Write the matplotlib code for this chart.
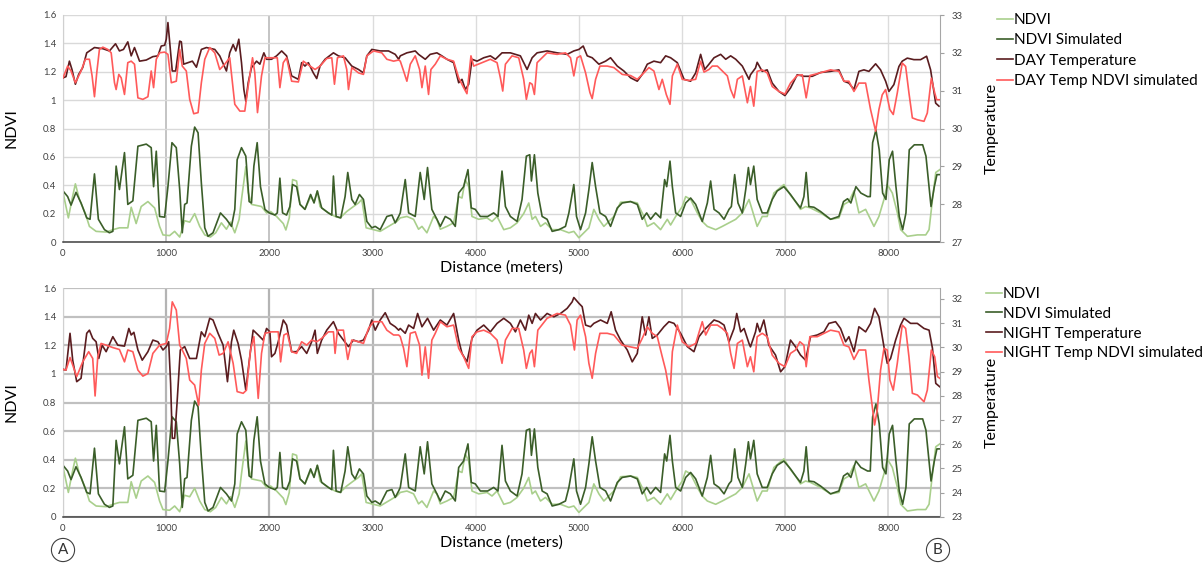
import numpy as np
import matplotlib
matplotlib.use("Agg")
import matplotlib.pyplot as plt
from matplotlib.ticker import FuncFormatter

plt.rcParams["font.family"] = ["Lato", "DejaVu Sans"]
plt.rcParams["lines.solid_joinstyle"] = "round"

# NDVI profile along the transect (same in both panels)
ndvi_d = [0, 52, 87, 120, 159, 217, 256, 321, 418, 499, 547, 628, 661, 709, 758, 823, 888, 936,
          969, 1033, 1082, 1131, 1179, 1228, 1276, 1325, 1374, 1429, 1480, 1535, 1584, 1623, 1665,
          1707, 1730, 1772, 1795, 1827, 1924, 1973, 2012, 2070, 2135, 2160, 2193, 2225, 2264, 2297,
          2345, 2400, 2433, 2465, 2491, 2572, 2637, 2686, 2750, 2815, 2864, 2896, 2938, 3009, 3074,
          3155, 3236, 3269, 3333, 3398, 3446, 3479, 3527, 3592, 3624, 3657, 3721, 3786, 3835, 3867,
          3899, 3932, 3964, 4029, 4110, 4158, 4207, 4272, 4336, 4401, 4465, 4514, 4547, 4579, 4628,
          4676, 4741, 4822, 4903, 4951, 5000, 5048, 5097, 5145, 5194, 5242, 5291, 5339, 5404, 5501,
          5566, 5630, 5663, 5727, 5792, 5857, 5889, 5938, 6002, 6035, 6083, 6148, 6196, 6245, 6326,
          6390, 6455, 6520, 6584, 6649, 6728, 6777, 6825, 6890, 6987, 7051, 7100, 7148, 7197, 7245,
          7342, 7439, 7520, 7569, 7617, 7666, 7714, 7779, 7860, 7908, 7957, 7989, 8038, 8087, 8119,
          8184, 8281, 8362, 8394, 8427, 8459, 8498]
ndvi = [.35, .17, .30, .41, .30, .20, .11, .075, .07, .09, .10, .10, .245, .13, .25, .285, .24, .11,
        .05, .045, .075, .035, .15, .14, .20, .11, .05, .035, .065, .135, .09, .14, .065,
        .16, .30, .53, .35, .265, .25, .205, .215, .18, .13, .085, .17, .44, .43, .265,
        .23, .32, .285, .36, .25, .205, .18, .17, .215, .25, .275, .30, .10, .087, .075,
        .11, .145, .17, .18, .16, .09, .11, .065, .18, .16, .09, .11, .135, .32, .31,
        .44, .39, .18, .16, .17, .145, .18, .087, .10, .135, .20, .275, .16, .18, .11,
        .135, .087, .087, .065, .075, .03, .065, .10, .23, .16, .11, .145, .18, .28, .285,
        .275, .18, .11, .135, .087, .16, .12, .18, .25, .32, .30, .205, .145, .11, .087,
        .11, .135, .16, .205, .30, .11, .18, .18, .345, .405, .33, .285, .23, .25, .24,
        .205, .16, .17, .265, .285, .36, .205, .23, .11, .18, .30, .405, .345, .205, .087,
        .04, .05, .05, .087, .30, .49, .51]

ndvi_sim_d = [0, 45, 78, 126, 175, 230, 262, 305, 343, 402, 450, 483, 515, 547, 596, 628, 677, 726,
              807, 855, 878, 904, 936, 985, 1017, 1056, 1098, 1131, 1156, 1179, 1202, 1244, 1276,
              1309, 1341, 1374, 1406, 1454, 1526, 1584, 1633, 1665, 1688, 1730, 1772, 1804, 1827,
              1850, 1882, 1914, 1957, 1999, 2054, 2077, 2102, 2128, 2167, 2199, 2225, 2264, 2297,
              2345, 2400, 2433, 2465, 2507, 2572, 2605, 2621, 2647, 2692, 2734, 2760, 2799, 2831,
              2873, 2912, 2945, 2993, 3026, 3074, 3139, 3188, 3220, 3253, 3269, 3317, 3350, 3414,
              3462, 3501, 3533, 3575, 3624, 3657, 3705, 3754, 3802, 3835, 3883, 3925, 3957, 3996,
              4045, 4116, 4174, 4216, 4255, 4288, 4336, 4401, 4449, 4491, 4524, 4540, 4569, 4602,
              4644, 4692, 4741, 4806, 4870, 4903, 4951, 4977, 5016, 5065, 5097, 5129, 5162, 5204,
              5259, 5307, 5372, 5420, 5501, 5566, 5614, 5657, 5695, 5744, 5792, 5831, 5851, 5883,
              5906, 5938, 5986, 6035, 6083, 6132, 6196, 6245, 6277, 6310, 6358, 6407, 6455, 6478,
              6510, 6542, 6584, 6617, 6643, 6663, 6695, 6728, 6777, 6825, 6874, 6922, 6987, 7051,
              7100, 7148, 7181, 7203, 7229, 7278, 7342, 7439, 7520, 7565, 7604, 7636, 7685, 7733,
              7798, 7824, 7847, 7879, 7911, 7944, 7976, 8008, 8040, 8073, 8105, 8138, 8170, 8202,
              8251, 8332, 8364, 8413, 8445, 8470, 8500]
ndvi_sim = [.36, .32, .26, .35, .275, .17, .16, .48, .16, .087, .065, .075, .535, .37, .63, .265, .29, .675,
            .69, .665, .39, .64, .18, .175, .39, .70, .665, .37, .065, .265, .275, .675, .81,
            .77, .415, .10, .04, .065, .205, .16, .11, .23, .58, .665, .605, .285, .275,
            .535, .70, .39, .23, .205, .19, .205, .45, .205, .19, .25, .405, .39, .265,
            .23, .335, .275, .36, .24, .205, .19, .465, .18, .17, .32, .49, .30, .265,
            .335, .30, .145, .10, .11, .087, .18, .19, .135, .18, .205, .44, .205, .18,
            .49, .30, .525, .23, .16, .11, .18, .16, .11, .345, .39, .51, .24, .23,
            .18, .18, .205, .18, .50, .25, .18, .145, .30, .605, .615, .43, .615, .345,
            .18, .16, .075, .087, .11, .205, .405, .18, .087, .205, .37, .56, .39, .205,
            .18, .11, .24, .275, .285, .265, .16, .205, .16, .205, .17, .44, .39, .57,
            .39, .205, .18, .275, .31, .265, .145, .275, .43, .23, .205, .16, .23, .25,
            .475, .275, .205, .37, .525, .405, .535, .30, .205, .205, .30, .36, .39, .335,
            .285, .24, .32, .49, .25, .245, .215, .16, .18, .285, .305, .275, .39, .345,
            .32, .32, .70, .79, .65, .345, .30, .58, .64, .39, .18, .087, .205, .65,
            .685, .685, .605, .25, .39, .475, .475]

# DAY land surface temperature
day_t_d = [0, 29, 62, 87, 120, 152, 191, 230, 305, 386, 450, 509, 547, 586, 628, 661, 693, 742, 807,
           871, 920, 952, 985, 1001, 1017, 1040, 1059, 1092, 1131, 1147, 1169, 1212, 1254, 1293, 1341,
           1390, 1471, 1519, 1584, 1616, 1649, 1675, 1704, 1730, 1753, 1772, 1795, 1827, 1876, 1908,
           1947, 1973, 2021, 2070, 2119, 2167, 2216, 2281, 2313, 2345, 2378, 2426, 2459, 2491, 2540,
           2621, 2669, 2734, 2799, 2864, 2912, 2945, 2993, 3074, 3155, 3220, 3253, 3269, 3333, 3414,
           3446, 3511, 3559, 3624, 3672, 3721, 3786, 3835, 3867, 3899, 3932, 3964, 4013, 4078, 4142,
           4191, 4255, 4336, 4433, 4498, 4547, 4595, 4692, 4789, 4886, 4951, 5000, 5042, 5081, 5129,
           5194, 5259, 5307, 5372, 5436, 5501, 5566, 5614, 5663, 5727, 5792, 5841, 5889, 5954, 6019,
           6083, 6132, 6180, 6219, 6261, 6310, 6374, 6423, 6471, 6520, 6584, 6649, 6663, 6712, 6728,
           6777, 6825, 6874, 6939, 6997, 7051, 7116, 7181, 7262, 7342, 7439, 7520, 7569, 7617, 7666,
           7714, 7763, 7811, 7876, 7924, 7973, 8005, 8053, 8102, 8134, 8183, 8247, 8312, 8370, 8409,
           8458, 8490]
day_t = [31.34, 31.37, 31.78, 31.56, 31.17, 31.43, 31.61, 32.0, 32.14, 32.11, 32.05, 32.24, 32.05, 32.09, 32.29, 31.92, 32.14, 31.78, 31.81,
         31.9, 31.92, 32.18, 32.2, 32.36, 32.8, 32.09, 31.52, 31.52, 32.31, 32.29, 31.7, 31.74, 31.78, 31.62, 32.09,
         32.14, 32.09, 31.92, 31.52, 32.0, 32.22, 32.05, 32.36, 31.74, 31.03, 30.72, 31.21, 31.61, 31.78, 31.7,
         32.0, 31.83, 31.83, 31.92, 32.05, 31.92, 31.39, 31.3, 31.74, 31.65, 31.74, 31.47, 31.32, 31.65, 31.83,
         32.0, 31.92, 31.87, 31.65, 31.56, 31.47, 31.92, 32.09, 32.05, 32.05, 31.96, 31.83, 31.92, 32.0, 32.05,
         31.96, 31.83, 31.96, 32.0, 31.92, 31.83, 31.74, 31.21, 31.3, 31.03, 31.17, 31.83, 31.78, 31.87, 31.92,
         31.83, 32.0, 32.0, 31.92, 31.56, 31.87, 32.0, 32.05, 32.0, 31.96, 32.05, 32.09, 32.18, 31.92, 31.87,
         31.7, 31.78, 31.87, 31.65, 31.52, 31.34, 31.25, 31.43, 31.7, 31.78, 31.74, 31.92, 31.87, 31.74, 31.3,
         31.25, 31.47, 31.96, 31.56, 31.7, 31.87, 31.96, 31.83, 31.92, 31.83, 31.65, 31.3, 31.42, 31.6, 31.75,
         31.51, 31.55, 31.2, 30.98, 30.87, 31.07, 31.42, 31.38, 31.38, 31.48, 31.51, 31.55, 31.25, 31.2, 31.03,
         31.51, 31.55, 31.51, 31.71, 31.55, 31.25, 30.98, 31.16, 31.64, 31.78, 31.86, 31.82, 31.82, 31.91, 31.55,
         30.67, 30.59]

day_sim_d = [0, 45, 78, 120, 175, 217, 256, 282, 305, 327, 353, 386, 434, 467, 499, 515, 541, 564, 596,
             628, 661, 693, 726, 774, 823, 855, 878, 904, 936, 985, 1017, 1050, 1098, 1131, 1156, 1195,
             1228, 1267, 1309, 1341, 1374, 1422, 1471, 1519, 1568, 1616, 1665, 1714, 1762, 1795, 1837,
             1859, 1885, 1924, 1957, 2021, 2077, 2102, 2135, 2167, 2216, 2281, 2329, 2394, 2443, 2491,
             2556, 2605, 2631, 2660, 2718, 2750, 2767, 2799, 2864, 2912, 2945, 3009, 3090, 3139, 3204,
             3253, 3269, 3301, 3333, 3366, 3414, 3456, 3479, 3511, 3543, 3566, 3608, 3657, 3721, 3786,
             3835, 3883, 3915, 3954, 3980, 4061, 4142, 4207, 4239, 4262, 4288, 4352, 4417, 4465, 4491,
             4524, 4547, 4569, 4595, 4692, 4789, 4870, 4919, 4951, 4983, 5016, 5065, 5107, 5129, 5162,
             5204, 5275, 5339, 5420, 5501, 5566, 5630, 5679, 5727, 5776, 5808, 5847, 5883, 5906, 5954,
             6002, 6067, 6132, 6180, 6213, 6261, 6293, 6342, 6390, 6439, 6471, 6504, 6536, 6584, 6633,
             6663, 6695, 6728, 6777, 6825, 6874, 6939, 6997, 7051, 7116, 7165, 7203, 7239, 7310, 7439,
             7520, 7569, 7617, 7666, 7714, 7779, 7827, 7876, 7908, 7940, 7973, 8014, 8047, 8086, 8134,
             8167, 8199, 8232, 8281, 8345, 8377, 8416, 8449, 8468, 8498]
day_sim = [31.34, 31.65, 31.52, 31.21, 31.52, 31.83, 31.83, 31.39, 30.84, 31.47, 32.09, 32.15, 32.09, 32.0, 31.21, 31.03, 31.43, 31.34, 30.9,
           31.74, 31.78, 31.7, 30.81, 30.77, 30.84, 31.52, 31.08, 31.83, 32.0, 32.02, 31.96, 31.21, 31.25, 32.09, 31.65, 31.52,
           30.77, 30.39, 30.42, 31.21, 31.83, 32.14, 32.0, 31.56, 31.7, 31.87, 30.64, 30.46, 30.46, 31.12, 31.87,
           31.47, 30.42, 31.39, 31.87, 31.87, 31.87, 31.08, 31.74, 31.87, 31.25, 31.23, 31.78, 31.65, 31.56, 31.65,
           31.85, 31.87, 31.17, 31.87, 31.92, 31.56, 31.03, 31.61, 31.47, 31.43, 31.92, 32.05, 32.0, 31.83, 31.78,
           31.81, 31.78, 31.52, 31.25, 31.7, 31.92, 31.56, 31.08, 31.65, 30.9, 31.56, 31.7, 31.92, 31.83, 31.78,
           31.34, 31.08, 30.92, 31.92, 31.65, 31.74, 31.83, 31.74, 31.34, 30.99, 31.7, 31.92, 31.87, 31.3, 30.77,
           31.21, 31.17, 30.9, 31.74, 32.0, 31.96, 32.0, 31.87, 31.39, 31.87, 31.92, 31.47, 30.95, 30.79, 31.3,
           31.65, 31.65, 31.61, 31.43, 31.4, 31.3, 31.47, 31.61, 31.52, 31.03, 31.3, 30.9, 30.64, 31.39, 31.7,
           31.3, 31.27, 31.3, 31.78, 31.49, 31.56, 31.65, 31.65, 31.52, 31.39, 31.03, 30.81, 31.3, 31.39, 30.68,
           31.11, 30.59, 31.51, 31.55, 31.47, 31.11, 30.98, 30.91, 31.2, 31.4, 31.42, 30.81, 31.4, 31.45, 31.55,
           31.51, 31.25, 31.25, 30.98, 31.2, 31.2, 30.5, 29.93, 30.5, 30.89, 31.03, 30.5, 30.37, 30.94, 31.73,
           31.64, 30.94, 30.28, 30.23, 30.19, 30.41, 31.33, 30.94, 30.76, 30.76]

# NIGHT land surface temperature
night_t_d = [0, 29, 68, 94, 133, 175, 230, 256, 288, 321, 347, 379, 418, 483, 531, 596, 638, 661, 687,
             726, 768, 823, 871, 920, 969, 1001, 1024, 1043, 1059, 1082, 1105, 1137, 1179, 1228, 1293,
             1341, 1374, 1422, 1454, 1503, 1552, 1594, 1633, 1655, 1697, 1730, 1772, 1804, 1843, 1892,
             1940, 1973, 2005, 2021, 2054, 2086, 2135, 2167, 2216, 2264, 2313, 2362, 2410, 2443, 2465,
             2507, 2556, 2621, 2669, 2718, 2767, 2815, 2864, 2912, 2961, 2993, 3026, 3074, 3123, 3171,
             3220, 3253, 3269, 3317, 3350, 3398, 3437, 3479, 3533, 3592, 3657, 3721, 3786, 3835, 3867,
             3915, 3964, 4013, 4078, 4142, 4207, 4272, 4336, 4385, 4433, 4482, 4514, 4547, 4579, 4628,
             4692, 4757, 4822, 4886, 4935, 4951, 5000, 5032, 5065, 5113, 5145, 5210, 5275, 5313, 5355,
             5404, 5469, 5517, 5566, 5614, 5646, 5679, 5711, 5760, 5824, 5873, 5922, 5986, 6051, 6115,
             6164, 6213, 6261, 6310, 6358, 6407, 6455, 6504, 6530, 6568, 6601, 6649, 6663, 6712, 6728,
             6754, 6793, 6841, 6906, 6955, 6997, 7051, 7100, 7148, 7197, 7245, 7310, 7375, 7423, 7488,
             7536, 7585, 7617, 7666, 7714, 7779, 7827, 7866, 7908, 7957, 7989, 8021, 8070, 8118, 8151,
             8215, 8280, 8345, 8394, 8427, 8459, 8498]
night_t = [29.09, 29.06, 30.58, 29.47, 28.58, 28.72, 30.58, 30.71, 30.37, 30.23, 29.54, 30.09, 29.82, 30.44, 30.09, 30.05, 30.78, 30.51, 30.62,
           29.89, 29.47, 29.82, 30.3, 30.23, 29.89, 30.03, 30.23, 28.51, 26.24, 26.24, 27.68, 29.89, 30.03, 29.54, 29.54,
           30.64, 30.44, 31.2, 31.13, 30.58, 30.09, 28.58, 30.23, 30.71, 30.16, 29.47, 28.23, 29.4, 30.71, 30.51,
           30.3, 30.78, 30.64, 29.61, 29.75, 30.23, 31.13, 30.92, 29.82, 29.82, 30.03, 29.75, 30.23, 30.71, 29.75,
           30.3, 30.71, 31.06, 30.58, 30.3, 30.03, 30.3, 30.23, 30.3, 30.71, 31.13, 30.71, 31.13, 31.43, 30.99,
           30.85, 30.71, 30.78, 30.58, 30.92, 30.78, 31.4, 30.85, 31.2, 30.71, 31.13, 30.92, 31.4, 30.3, 29.75,
           29.4, 30.37, 30.71, 30.92, 30.64, 30.99, 31.2, 30.99, 30.64, 31.13, 30.71, 31.33, 30.99, 31.4, 31.13,
           31.4, 31.26, 31.4, 31.61, 31.88, 32.06, 31.82, 31.68, 30.92, 30.85, 30.99, 31.13, 30.99, 31.47, 30.71,
           30.3, 29.89, 29.4, 29.75, 31.26, 30.51, 31.26, 30.37, 30.51, 30.85, 31.06, 30.99, 30.58, 30.03, 29.82,
           30.44, 30.71, 30.92, 31.13, 31.06, 30.92, 30.23, 30.78, 31.4, 30.64, 30.78, 30.16, 30.02, 30.64, 30.99,
           30.64, 31.13, 30.09, 29.68, 28.99, 29.2, 30.3, 30.02, 29.68, 29.47, 30.44, 30.51, 30.64, 30.99, 31.06,
           30.78, 30.23, 30.44, 29.82, 30.85, 30.64, 30.99, 31.61, 31.26, 30.02, 29.34, 29.54, 30.3, 30.92, 31.2,
           30.99, 30.99, 30.78, 30.71, 29.96, 28.51, 28.37]

night_sim_d = [0, 29, 68, 94, 133, 191, 249, 288, 311, 337, 369, 418, 483, 547, 596, 628, 677, 726,
               774, 823, 871, 936, 1001, 1033, 1059, 1098, 1131, 1156, 1195, 1228, 1276, 1315, 1341,
               1374, 1422, 1471, 1513, 1552, 1600, 1649, 1688, 1746, 1778, 1817, 1850, 1892, 1924,
               1957, 2021, 2086, 2109, 2141, 2174, 2216, 2264, 2313, 2362, 2410, 2459, 2507, 2572,
               2621, 2637, 2660, 2718, 2760, 2799, 2864, 2912, 2961, 3009, 3090, 3139, 3204, 3253,
               3269, 3301, 3333, 3366, 3414, 3456, 3479, 3511, 3543, 3575, 3608, 3657, 3721, 3786,
               3835, 3883, 3932, 3964, 4013, 4078, 4142, 4207, 4255, 4288, 4352, 4417, 4465, 4491,
               4524, 4547, 4569, 4602, 4692, 4789, 4870, 4919, 4957, 4983, 5016, 5065, 5097, 5129,
               5162, 5204, 5275, 5339, 5420, 5501, 5566, 5614, 5663, 5711, 5760, 5808, 5841, 5883,
               5906, 5954, 6002, 6067, 6132, 6196, 6229, 6277, 6342, 6390, 6439, 6471, 6504, 6536,
               6584, 6633, 6663, 6695, 6728, 6777, 6825, 6874, 6939, 6997, 7051, 7100, 7142, 7181,
               7203, 7239, 7310, 7439, 7520, 7569, 7617, 7666, 7714, 7779, 7811, 7844, 7866, 7892,
               7924, 7957, 7989, 8014, 8047, 8086, 8134, 8167, 8199, 8232, 8281, 8345, 8377, 8416,
               8449, 8475, 8498]
night_sim = [29.09, 29.06, 29.58, 29.27, 28.79, 29.4, 29.82, 29.54, 27.99, 29.61, 30.16, 30.09, 29.99, 29.91, 29.4, 29.89, 29.82, 29.06,
             28.81, 28.92, 29.75, 30.09, 30.16, 30.78, 31.88, 31.54, 30.09, 29.89, 29.54, 28.65, 28.44, 27.61, 29.06,
             30.16, 30.58, 30.37, 29.68, 29.75, 30.23, 29.34, 28.17, 28.1, 28.23, 29.89, 30.44, 27.89, 29.75,
             30.58, 30.64, 30.64, 29.4, 30.51, 30.58, 29.82, 29.75, 30.23, 30.09, 30.3, 30.23, 30.37, 30.64,
             30.64, 29.75, 30.71, 30.71, 29.5, 30.3, 30.23, 30.16, 30.78, 31.06, 31.06, 30.71, 30.51, 30.51,
             30.44, 29.96, 29.2, 30.58, 30.64, 30.09, 28.85, 30.02, 28.72, 30.3, 30.58, 31.06, 30.85, 30.92,
             29.96, 29.61, 29.13, 30.44, 30.64, 30.71, 30.58, 30.3, 29.34, 30.3, 30.78, 30.78, 29.89, 29.13,
             29.75, 29.89, 29.2, 30.71, 31.2, 31.4, 31.33, 30.92, 29.89, 31.13, 31.33, 30.44, 29.34, 28.72,
             29.75, 30.58, 30.58, 30.51, 30.09, 30.02, 29.96, 30.37, 30.85, 30.58, 30.44, 29.61, 29.06, 28.03,
             29.82, 30.92, 30.23, 30.02, 30.16, 31.06, 30.51, 30.92, 30.92, 30.78, 30.58, 29.75, 29.13, 30.16,
             30.3, 29.2, 29.61, 28.99, 30.44, 30.58, 30.44, 29.68, 29.34, 29.2, 29.75, 29.89, 30.23, 30.09,
             29.2, 30.44, 30.44, 30.71, 30.64, 30.09, 30.02, 29.5, 29.89, 29.89, 28.65, 27.55, 26.79, 27.41,
             29.06, 29.96, 29.89, 28.65, 28.23, 29.34, 30.92, 30.78, 29.61, 28.1, 28.03, 27.75, 28.23, 29.89,
             29.61, 28.79, 28.72]

x_ticks = list(range(0, 8001, 1000))
ndvi_ticks = [0, 0.2, 0.4, 0.6, 0.8, 1.0, 1.2, 1.4, 1.6]

C_NDVI = "#a9cf8c"
C_NDVI_SIM = "#3b5e29"
C_TEMP = "#5a1c1f"
C_SIM = "#ff5a5a"
W, H = 1203, 565


def panel(ax, t_d, t, s_d, s, t_name, s_name, t_lim, t_ticks, hgrid, vgrid):
    ax.plot(ndvi_d, ndvi, color=C_NDVI, lw=1.2, label="NDVI")
    ax.plot(ndvi_sim_d, ndvi_sim, color=C_NDVI_SIM, lw=1.2, label="NDVI Simulated")
    ax.set_xlim(0, 8500)
    ax.set_ylim(0, 1.6)
    ax.set_xticks(x_ticks)
    ax.set_yticks(ndvi_ticks)
    ax.yaxis.set_major_formatter(FuncFormatter(lambda v, p: "{:g}".format(round(v, 2))))
    ax.tick_params(length=0, labelsize=6.8, colors="#404040", pad=5)
    ax.grid(True, axis="y", color=hgrid[0], lw=hgrid[1])
    ax.grid(True, axis="x", color="#d9d9d9", lw=1.0)
    for line, (c, lw) in zip(ax.get_xgridlines(), vgrid):
        line.set_color(c)
        line.set_linewidth(lw)
    ax.set_axisbelow(True)
    for side in ["top", "right"]:
        ax.spines[side].set_visible(False)
    ax.spines["left"].set_color("#d0d0d0")
    ax.spines["bottom"].set_color("#404040")
    ax.spines["bottom"].set_linewidth(1.1)
    ax.set_ylabel("NDVI", fontsize=11.5)
    ax.yaxis.set_label_coords(-0.051, 0.5)
    ax.set_xlabel("Distance (meters)", fontsize=11.5, labelpad=2)

    ax2 = ax.twinx()
    ax2.plot(t_d, t, color=C_TEMP, lw=1.2, label=t_name)
    ax2.plot(s_d, s, color=C_SIM, lw=1.2, label=s_name)
    ax2.set_ylim(*t_lim)
    ax2.set_yticks(t_ticks)
    ax2.tick_params(axis="y", direction="out", length=3, width=0.8, color="#a0a0a0",
                    labelsize=6.8, labelcolor="#404040", pad=5)
    for side in ["top", "left", "bottom"]:
        ax2.spines[side].set_visible(False)
    ax2.spines["right"].set_color("#a6a6a6")
    ax2.set_ylabel("Temperature", fontsize=11.5)
    ax2.yaxis.set_label_coords(1.051, 0.5)
    h1, l1 = ax.get_legend_handles_labels()
    h2, l2 = ax2.get_legend_handles_labels()
    return h1 + h2, l1 + l2


fig = plt.figure(figsize=(W / 100, H / 100), dpi=100)
ax_top = fig.add_axes([63 / W, 1 - 242 / H, 877 / W, 227 / H])
ax_bot = fig.add_axes([63 / W, 1 - 516.7 / H, 877 / W, 228.4 / H])

top_v = [("#dcdcdc", 1.0), ("#c4c4c4", 1.4), ("#c4c4c4", 1.4)] + [("#dcdcdc", 1.0)] * 6
bot_v = ([("#dcdcdc", 1.0)] + [("#b4b4b4", 1.6)] * 3 + [("#efefef", 1.2)] * 2
         + [("#d4d4d4", 1.2)] * 3)

h, l = panel(ax_top, day_t_d, day_t, day_sim_d, day_sim,
             "DAY Temperature", "DAY Temp NDVI simulated",
             (27, 33), range(27, 34), ("#d9d9d9", 1.0), top_v)
fig.legend(h, l, loc="upper left", bbox_to_anchor=(997 / W, 1 - 13 / H), frameon=False,
           fontsize=11, handlelength=1.05, handletextpad=0.05, labelspacing=0.42,
           borderpad=0, borderaxespad=0)

h, l = panel(ax_bot, night_t_d, night_t, night_sim_d, night_sim,
             "NIGHT Temperature", "NIGHT Temp NDVI simulated",
             (23, 32.44), range(23, 33), ("#c0c0c0", 1.6), bot_v)
fig.legend(h, l, loc="upper left", bbox_to_anchor=(986 / W, 1 - 287 / H), frameon=False,
           fontsize=11, handlelength=1.05, handletextpad=0.05, labelspacing=0.38,
           borderpad=0, borderaxespad=0)

for x, s in [(63, "A"), (938, "B")]:
    fig.text(x / W, 1 - 550 / H, s, ha="center", va="center", fontsize=11, color="#333333",
             bbox=dict(boxstyle="circle,pad=0.3", fc="white", ec="#404040", lw=0.8))

fig.savefig("out.png", dpi=100)
